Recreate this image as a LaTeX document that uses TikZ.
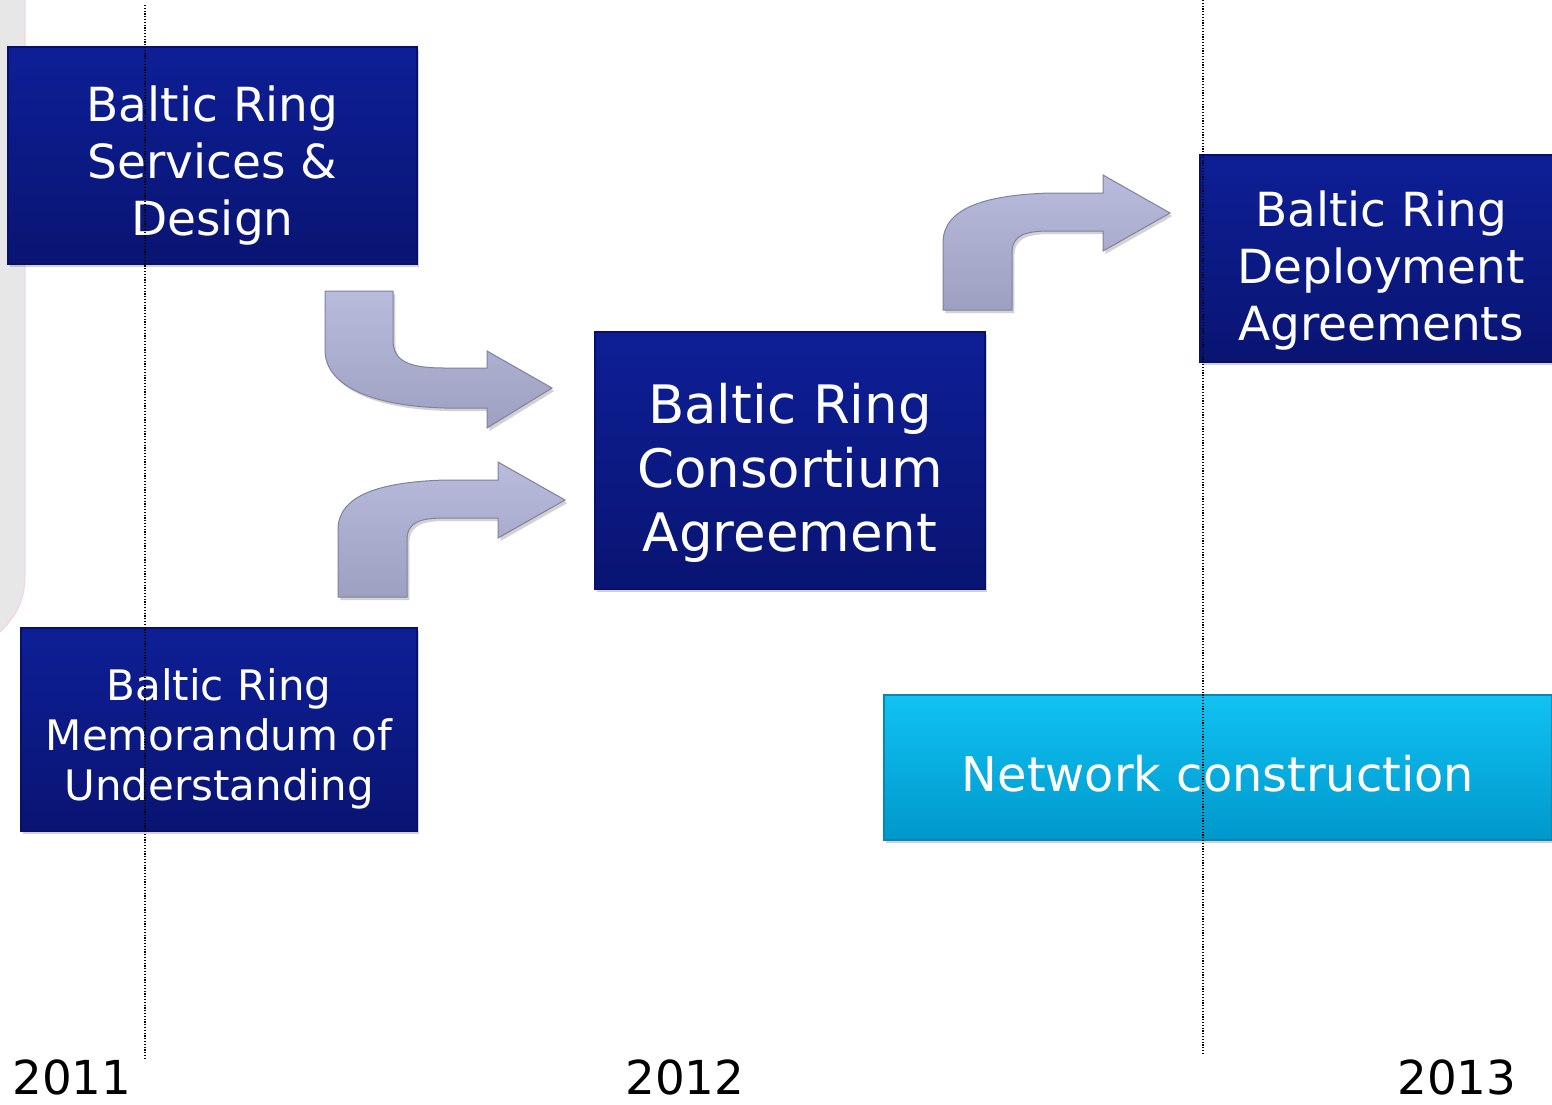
\documentclass[tikz,border=0pt]{standalone}
\usepackage{fontspec}
\setmainfont{DejaVu Sans}
\usetikzlibrary{shadows}
\definecolor{blueTop}{HTML}{0E1F96}
\definecolor{blueBot}{HTML}{091472}
\definecolor{blueEdge}{HTML}{07106A}
\definecolor{cyanTop}{HTML}{10C2F3}
\definecolor{cyanBot}{HTML}{0098CB}
\definecolor{cyanEdge}{HTML}{0A86B4}
\definecolor{arrTop}{HTML}{B8BBDB}
\definecolor{arrBot}{HTML}{9DA0C1}
\definecolor{arrEdge}{HTML}{7E819F}
\definecolor{panelGray}{HTML}{E7E7E7}
\definecolor{panelEdge}{HTML}{F2D6E6}
\begin{document}
\begin{tikzpicture}[x=0.5pt,y=-0.5pt,
  shadowed/.style={drop shadow={shadow xshift=1.2pt,shadow yshift=-1.5pt,opacity=0.35}},
  bluebox/.style={shadowed,draw=blueEdge,line width=0.6pt,top color=blueTop,bottom color=blueBot,inner sep=0pt},
  cyanbox/.style={shadowed,draw=cyanEdge,line width=0.6pt,top color=cyanTop,bottom color=cyanBot,inner sep=0pt},
  boxtext/.style={text=white,align=center,inner sep=0pt},
  blockarrow/.style={shadowed,draw=arrEdge,line width=0.5pt,top color=arrTop,bottom color=arrBot},
  dotline/.style={black,line width=0.6pt,dash pattern=on 0.6pt off 0.8pt},
  yearlabel/.style={text=black,inner sep=0pt,font=\fontsize{23.4pt}{28pt}\selectfont}]
\useasboundingbox (0,0) rectangle (1552,1104);
\fill[white] (0,0) rectangle (1552,1104);

% left grey panel
\fill[panelGray] (0,0) -- (25,0) -- (25,575) .. controls (25,605) and (12,620) .. (0,632) -- cycle;
\draw[panelEdge,line width=0.6pt] (25,0) -- (25,575) .. controls (25,605) and (12,620) .. (0,632);

% block arrows
\shadedraw[blockarrow] (325,291) -- (393,291) -- (393,340)
  .. controls (393,362) and (410,368) .. (445,368) -- (487,368) -- (487,351) -- (552,388)
  -- (487,428) -- (487,408) -- (445,408) .. controls (370,406) and (325,385) .. (325,350) -- cycle;
\shadedraw[blockarrow] (338,597) -- (338,530) .. controls (338,495) and (380,482) .. (445,480)
  -- (498,480) -- (498,462) -- (565,500) -- (498,538) -- (498,518) -- (445,518)
  .. controls (420,518) and (407,522) .. (407,540) -- (407,597) -- cycle;
\begin{scope}[shift={(605,-287)}]
\shadedraw[blockarrow] (338,597) -- (338,530) .. controls (338,495) and (380,482) .. (445,480)
  -- (498,480) -- (498,462) -- (565,500) -- (498,538) -- (498,518) -- (445,518)
  .. controls (420,518) and (407,522) .. (407,540) -- (407,597) -- cycle;
\end{scope}

% boxes
\node[bluebox,minimum width=204.5pt,minimum height=108.5pt] (design) at (212.5,155.5) {};
\node[boxtext,font=\fontsize{23.5pt}{28.5pt}\selectfont] (designtext)
  at ([yshift=-5pt]design.center) {Baltic Ring\\Services \&\\Design};

\node[bluebox,minimum width=198pt,minimum height=101.5pt] (mou) at (219,729.5) {};
\node[boxtext,font=\fontsize{21pt}{25pt}\selectfont] (moutext)
  at ([yshift=-4.5pt]mou.center) {Baltic Ring\\Memorandum of\\Understanding};

\node[bluebox,minimum width=195pt,minimum height=128.5pt] (consortium) at (790,460.5) {};
\node[boxtext,font=\fontsize{26.5pt}{32pt}\selectfont] (consortiumtext)
  at ([yshift=-6pt]consortium.center) {Baltic Ring\\Consortium\\Agreement};

\node[bluebox,minimum width=178pt,minimum height=103.5pt] (deploy) at (1378,258.5) {};
\node[boxtext,font=\fontsize{23.5pt}{28.5pt}\selectfont] (deploytext)
  at ([yshift=-6pt,xshift=1.5pt]deploy.center) {Baltic Ring\\Deployment\\Agreements};

\node[cyanbox,minimum width=334pt,minimum height=72.5pt] (network) at (1218,767.5) {};
\node[boxtext,font=\fontsize{23.9pt}{28pt}\selectfont] (networktext)
  at ([yshift=-3pt]network.center) {Network construction};

% years
\node[yearlabel] (y2011) at (72,1077) {2011};
\node[yearlabel] (y2012) at (685,1077) {2012};
\node[yearlabel] (y2013) at (1457,1077) {2013};

% dotted year lines
\coordinate (d1top) at (145,5);
\coordinate (d1bot) at (145,1058);
\coordinate (d2top) at (1203,0);
\coordinate (d2bot) at (1203,1055);
\draw[dotline] (d1top) -- (d1bot);
\draw[dotline] (d2top) -- (d2bot);
\end{tikzpicture}
\end{document}
